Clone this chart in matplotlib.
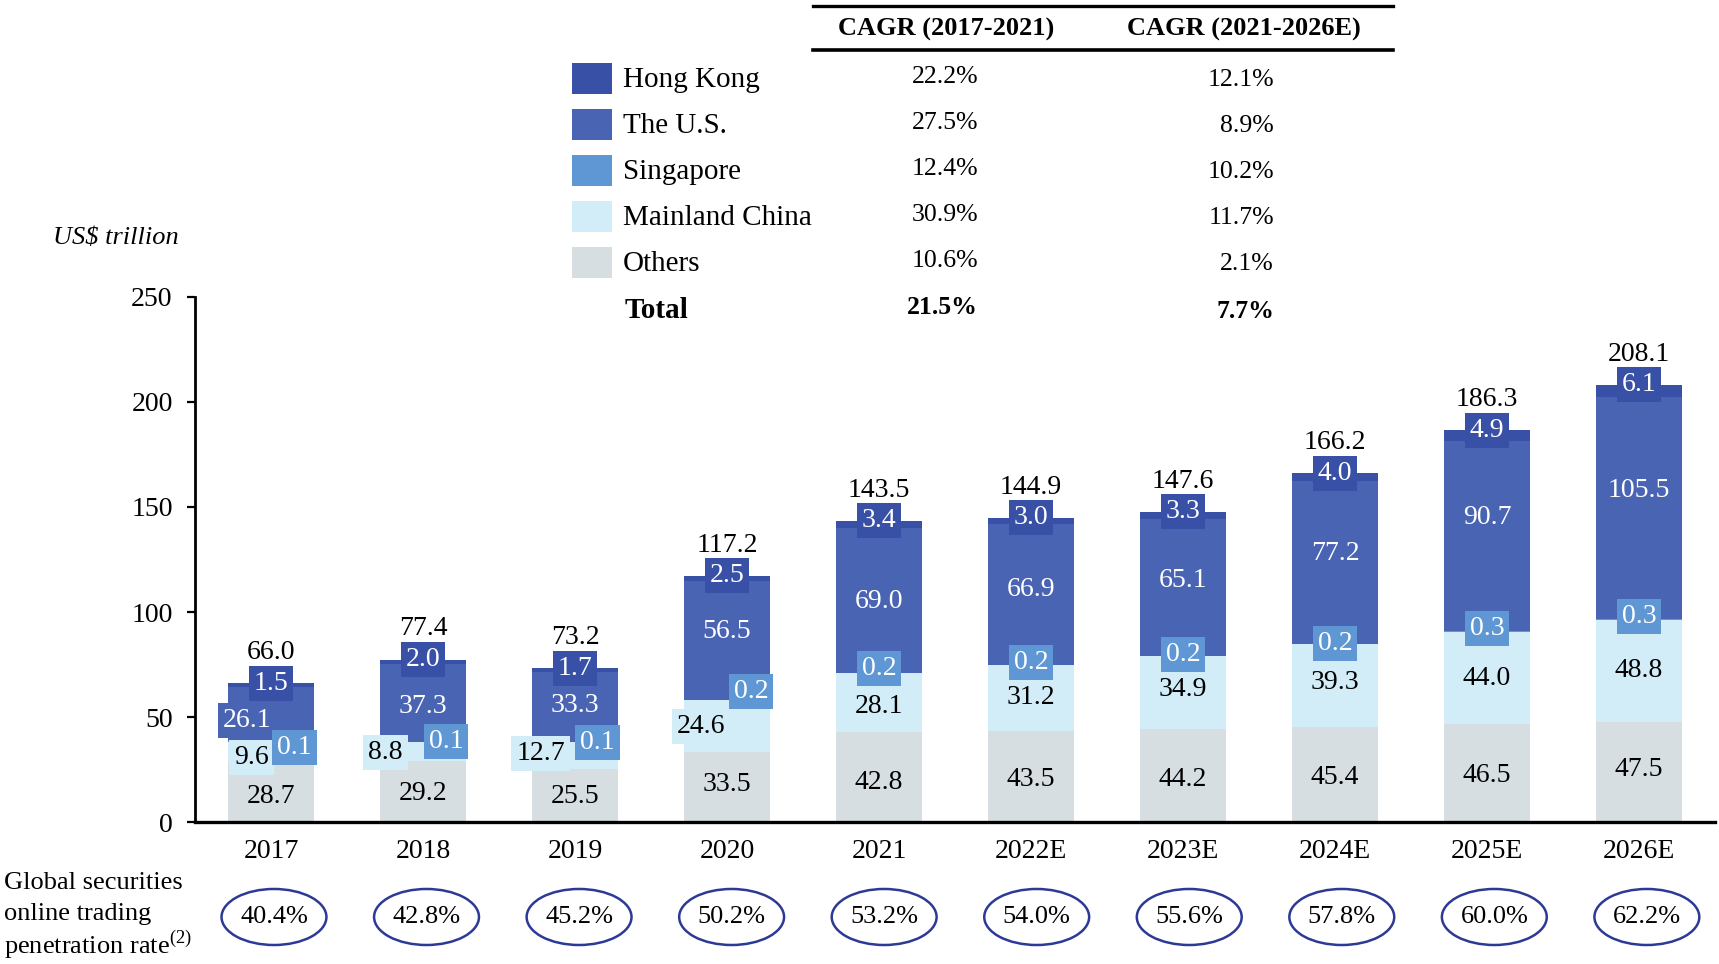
import matplotlib
matplotlib.use("Agg")
import matplotlib.pyplot as plt
import matplotlib.transforms as mtransforms
from matplotlib.patches import Rectangle, Ellipse
from matplotlib.lines import Line2D
import numpy as np

# ---------------- data ----------------
years = ["2017", "2018", "2019", "2020", "2021", "2022E", "2023E", "2024E", "2025E", "2026E"]
others = [28.7, 29.2, 25.5, 33.5, 42.8, 43.5, 44.2, 45.4, 46.5, 47.5]
mainland = [9.6, 8.8, 12.7, 24.6, 28.1, 31.2, 34.9, 39.3, 44.0, 48.8]
singapore = [0.1, 0.1, 0.1, 0.2, 0.2, 0.2, 0.2, 0.2, 0.3, 0.3]
us = [26.1, 37.3, 33.3, 56.5, 69.0, 66.9, 65.1, 77.2, 90.7, 105.5]
hong_kong = [1.5, 2.0, 1.7, 2.5, 3.4, 3.0, 3.3, 4.0, 4.9, 6.1]
totals = [66.0, 77.4, 73.2, 117.2, 143.5, 144.9, 147.6, 166.2, 186.3, 208.1]
penetration = [40.4, 42.8, 45.2, 50.2, 53.2, 54.0, 55.6, 57.8, 60.0, 62.2]

series_names = ["Hong Kong", "The U.S.", "Singapore", "Mainland China", "Others"]
cagr_2017_2021 = ["22.2%", "27.5%", "12.4%", "30.9%", "10.6%"]
cagr_2021_2026 = ["12.1%", "8.9%", "10.2%", "11.7%", "2.1%"]
total_cagr = ["21.5%", "7.7%"]

# ---------------- style ----------------
C_HK = "#3850a5"
C_US = "#4a64b4"
C_SG = "#5e97d4"
C_CN = "#d2edf8"
C_OT = "#d6dee1"
C_ELL = "#2c3a96"

# label placement tweaks (style only)
us_dx = [-0.158, 0, 0, 0, 0, 0, 0, 0, 0, 0]
us_dy = [-3.0, -1.5, 0.8, 4.0, -0.8, 2.2, 3.3, 4.5, 8.6, 8.4]
cn_dx = [-0.128, -0.247, -0.227, -0.171, 0, 0, 0, 0, 0, 0]
cn_dy = [-2.5, -0.4, 0.9, -0.3, -1.9, 0.0, 1.4, 1.2, 0.1, 0.5]
sg_dx = [0.155, 0.151, 0.148, 0.158, 0, 0, 0, 0, 0, 0]
sg_dy = [-3.0, 0.3, -0.2, 3.8, 2.0, 1.0, 0.5, 0.2, 1.4, 1.2]
ot_dy = [-2.0, -1.0, -0.5, 1.0, -2.5, -1.5, -2.0, -1.5, -1.0, 1.5]

plt.rcParams["font.family"] = ["Liberation Serif", "DejaVu Serif"]
plt.rcParams["mathtext.fontset"] = "custom"
plt.rcParams["mathtext.rm"] = "Liberation Serif"

fig = plt.figure(figsize=(17.19, 9.64), dpi=100)
ax = fig.add_axes([0.1134, 0.1471, 0.8843, 0.5451])

x = np.arange(len(years))
bw = 0.56
layers = [others, mainland, singapore, us, hong_kong]
colors = [C_OT, C_CN, C_SG, C_US, C_HK]
bottom = np.zeros(len(years))
bottoms = []
for vals, col in zip(layers, colors):
    v = np.array(vals)
    ax.bar(x, v, bw, bottom=bottom, color=col, edgecolor="none", zorder=2)
    bottoms.append(bottom.copy())
    bottom = bottom + v
tops = bottom

ax.set_xlim(-0.5, 9.5)
ax.set_ylim(0, 250)
for s in ["top", "right"]:
    ax.spines[s].set_visible(False)
ax.spines["left"].set_linewidth(2.0)
ax.spines["bottom"].set_linewidth(2.4)
ax.set_yticks(range(0, 251, 50))
ax.tick_params(axis="y", length=6, width=1.6, labelsize=20, pad=10, direction="out")
ax.set_xticks(x, years)
ax.tick_params(axis="x", length=0, labelsize=20, pad=12)

FS = 20
def boxed(xp, yp, txt, fc, tc):
    ax.text(xp, yp, txt, ha="center", va="center", fontsize=FS, color=tc, zorder=5,
            bbox=dict(boxstyle="square,pad=0.18", fc=fc, ec="none"))

for i in range(len(years)):
    # others
    ax.text(i, bottoms[0][i] + others[i] / 2 + ot_dy[i], f"{others[i]:.1f}", ha="center", va="center",
            fontsize=FS, color="black", zorder=5)
    # mainland
    ymc = bottoms[1][i] + mainland[i] / 2 + cn_dy[i]
    if cn_dx[i] != 0:
        boxed(i + cn_dx[i], ymc, f"{mainland[i]:.1f}", C_CN, "black")
    else:
        ax.text(i, ymc, f"{mainland[i]:.1f}", ha="center", va="center", fontsize=FS, color="black", zorder=5)
    # us
    yus = bottoms[3][i] + us[i] / 2 + us_dy[i]
    if us_dx[i] != 0:
        boxed(i + us_dx[i], yus, f"{us[i]:.1f}", C_US, "white")
    else:
        ax.text(i, yus, f"{us[i]:.1f}", ha="center", va="center", fontsize=FS, color="white", zorder=5)
    # singapore
    boxed(i + sg_dx[i], bottoms[2][i] + singapore[i] / 2 + sg_dy[i], f"{singapore[i]:.1f}", C_SG, "white")
    # hong kong
    boxed(i, tops[i], f"{hong_kong[i]:.1f}", C_HK, "white")
    # total
    ax.annotate(f"{totals[i]:.1f}", (i, tops[i]), xytext=(0, 22), textcoords="offset points",
                ha="center", va="center", fontsize=FS, color="black", zorder=5)

# penetration ellipses
trans = mtransforms.blended_transform_factory(ax.transData, ax.transAxes)
ey = -0.1804
for i, p in enumerate(penetration):
    cx = i + 0.02 + 0.0035 * i
    ax.add_patch(Ellipse((cx, ey), 0.69, 0.1066, transform=trans, fill=False, ec=C_ELL,
                         lw=1.8, clip_on=False))
    ax.text(cx, ey, f"{p:.1f}%", transform=trans, ha="center", va="center", fontsize=19, clip_on=False)

# left label
fig.text(0.0023, 1 - 883 / 964, "Global securities", fontsize=19, va="center", ha="left")
fig.text(0.0023, 1 - 914 / 964, "online trading", fontsize=19, va="center", ha="left")
fig.text(0.0023, 1 - 945 / 964, r"penetration rate$^{(2)}$", fontsize=19, va="center", ha="left")

# unit label
fig.text(53 / 1719, 1 - 238 / 964, r"US\$ trillion", fontsize=19, style="italic", va="center", ha="left")

# CAGR table / legend
fig.add_artist(Line2D([813 / 1719, 1393 / 1719], [1 - 5.5 / 964] * 2, transform=fig.transFigure,
                      color="black", lw=2.4))
fig.add_artist(Line2D([813 / 1719, 1393 / 1719], [1 - 50 / 964] * 2, transform=fig.transFigure,
                      color="black", lw=2.6))
fig.text(946.5 / 1719, 1 - 29 / 964, "CAGR (2017-2021)", fontsize=19, fontweight="bold", ha="center", va="center")
fig.text(1244 / 1719, 1 - 29 / 964, "CAGR (2021-2026E)", fontsize=19, fontweight="bold", ha="center", va="center")

row_y = [80, 126, 172, 218, 264]
for name, c1, c2, col, ry in zip(series_names, cagr_2017_2021, cagr_2021_2026, colors[::-1], row_y):
    fig.add_artist(Rectangle((572 / 1719, 1 - (ry + 14) / 964), 40 / 1719, 31 / 964,
                             transform=fig.transFigure, fc=col, ec="none"))
    fig.text(623 / 1719, 1 - ry / 964, name, fontsize=21, ha="left", va="center")
    fig.text(978 / 1719, 1 - (ry - 3) / 964, c1, fontsize=18.5, ha="right", va="center")
    fig.text(1274 / 1719, 1 - ry / 964, c2, fontsize=18.5, ha="right", va="center")
fig.text(625 / 1719, 1 - 310 / 964, "Total", fontsize=21, fontweight="bold", ha="left", va="center")
fig.text(978 / 1719, 1 - 308 / 964, total_cagr[0], fontsize=18.5, fontweight="bold", ha="right", va="center")
fig.text(1274 / 1719, 1 - 311 / 964, total_cagr[1], fontsize=18.5, fontweight="bold", ha="right", va="center")

fig.savefig("out.png", dpi=100)
